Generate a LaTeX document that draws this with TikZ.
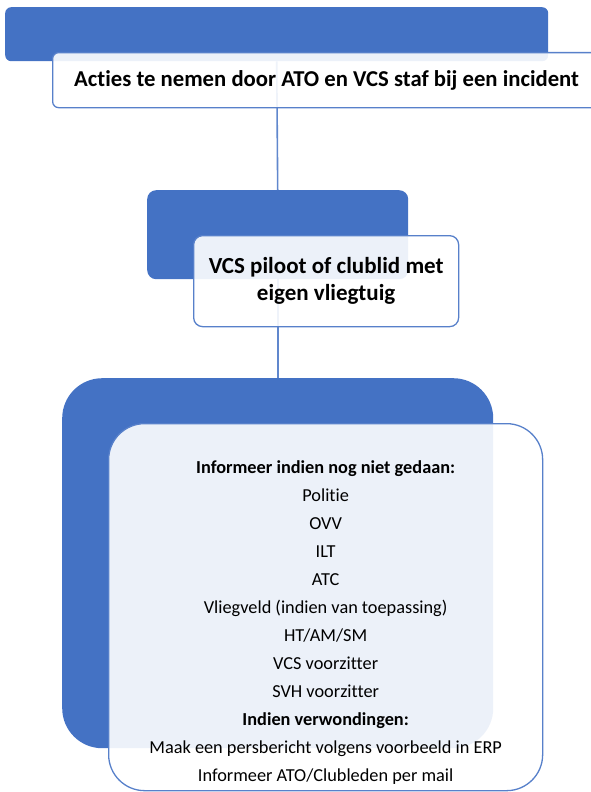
\documentclass[tikz,border=0pt]{standalone}
\usepackage{fontspec}
\setmainfont{Carlito}[Ligatures=NoCommon]
\usepackage{xcolor}
\usepackage{tikz}
\definecolor{accent}{HTML}{4472C4}

\begin{document}
\begin{tikzpicture}[x=1pt,y=-1pt,
 back/.style={fill=accent,rounded corners=#1,anchor=north west,inner sep=0pt},
 back/.default=6pt,
 card/.style={draw=accent!90,line width=1.3pt,fill=white,fill opacity=0.9,text opacity=1,
   rounded corners=#1,anchor=north west,align=center,inner sep=0pt},
 card/.default=6pt,
 link/.style={draw=accent!85,line width=1.6pt}]
\useasboundingbox (0,0) rectangle (591,792);
\node[back=6pt,minimum width=543pt,minimum height=54pt] (topback) at (5,7) {};
\node[back=9pt,minimum width=261pt,minimum height=89pt] (pilotback) at (147,190) {};
\node[back=40pt,minimum width=431pt,minimum height=370pt] (infoback) at (62,378) {};
\draw[link] (topback.south) -- (pilotback.north);
\draw[link] (pilotback.south) -- (infoback.north);
\node[card=6pt,minimum width=548pt,minimum height=55pt,font=\fontsize{22.7}{27}\selectfont\bfseries] (topcard) at (52,52)
 {Acties te nemen door ATO en VCS staf bij een incident};
\node[card=9pt,minimum width=265pt,minimum height=91pt,font=\fontsize{23}{27}\selectfont\bfseries] (pilotcard) at (193,235)
 {VCS piloot of clublid met\\eigen vliegtuig};
\node[card=36pt,minimum width=434pt,minimum height=367pt] (infocard) at (108,423) {};
\node[align=center,font=\fontsize{18.3}{28}\selectfont,yshift=-15pt] (infotext) at (infocard.center)
 {\textbf{Informeer indien nog niet gedaan:}\\Politie\\OVV\\ILT\\ATC\\Vliegveld (indien van toepassing)\\
  HT/AM/SM\\VCS voorzitter\\SVH voorzitter\\\textbf{Indien verwondingen:}\\
  Maak een persbericht volgens voorbeeld in ERP\\Informeer ATO/Clubleden per mail};
\end{tikzpicture}
\end{document}
